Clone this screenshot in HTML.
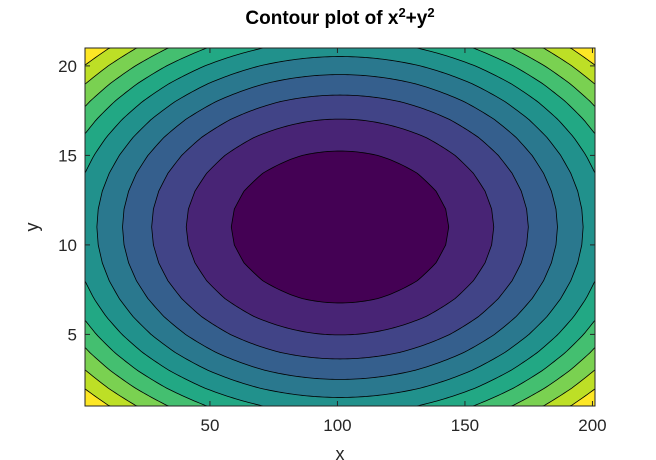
<!DOCTYPE html>
<html><head><meta charset="utf-8">
<style>
html,body{margin:0;padding:0;background:#fff;}
svg{display:block;font-family:"Liberation Sans",sans-serif;}
</style></head>
<body>
<svg id="chart" width="656" height="460" viewBox="0 0 656 460" xmlns="http://www.w3.org/2000/svg">
<defs><clipPath id="plotclip"><rect x="85" y="48" width="510" height="358"/></clipPath></defs>
<text x="340" y="24" text-anchor="middle" font-size="19" font-weight="bold" fill="#000">Contour plot of x<tspan dy="-7" font-size="13">2</tspan><tspan dy="7">+y</tspan><tspan dy="-7" font-size="13">2</tspan></text>
<g id="plot" clip-path="url(#plotclip)"></g>
<g id="axes"></g>
<text x="340" y="460" text-anchor="middle" font-size="18" fill="#262626">x</text>
<text x="38" y="227" text-anchor="middle" font-size="18" fill="#262626" transform="rotate(-90 38 227)">y</text>
</svg>
<script>
// grid: x = -10:0.1:10 (indices 1..201), y = -10:1:10 (indices 1..21), z = x^2 + y^2
const xGrid = {start: -10, step: 0.1, count: 201};
const yGrid = {start: -10, step: 1, count: 21};
const levels = [18.18, 36.36, 54.55, 72.73, 90.91, 109.09, 127.27, 145.45, 163.64, 181.82];
const bandColors = ["#440154","#482475","#414487","#355f8d","#2a788e","#21918c","#22a884","#44bf70","#7ad151","#bddf26","#fde725"];
const xTicks = [50, 100, 150, 200];
const yTicks = [5, 10, 15, 20];

const NS = "http://www.w3.org/2000/svg";
const L = 85, R = 595, T = 48, B = 406;
function sx(i){ return L + (i - 1) * (R - L) / (xGrid.count - 1); }
function sy(j){ return B - (j - 1) * (B - T) / (yGrid.count - 1); }
function z(i, j){
  const x = xGrid.start + (i - 1) * xGrid.step;
  const y = yGrid.start + (j - 1) * yGrid.step;
  return x * x + y * y;
}
const plot = document.getElementById('plot');
const axes = document.getElementById('axes');

const bg = document.createElementNS(NS, 'rect');


bg.setAttribute('x', L); bg.setAttribute('y', T);
bg.setAttribute('width', R - L); bg.setAttribute('height', B - T);
bg.setAttribute('fill', bandColors[levels.length]);
plot.appendChild(bg);

const ci = (xGrid.count + 1) / 2, cj = (yGrid.count + 1) / 2;

for (let k = levels.length - 1; k >= 0; k--) {
  const lev = levels[k];
  const top = [], bot = [];
  let closed = true;
  for (let i = 1; i <= xGrid.count; i++) {
    let lo = null, hi = null;
    for (let j = 1; j <= yGrid.count; j++) {
      const v = z(i, j);
      if (v <= lev) {
        if (lo === null) {
          if (j === 1) { lo = 1; closed = false; }
          else { const p = z(i, j - 1); lo = j - 1 + (p - lev) / (p - v); }
        }
        if (j === yGrid.count) { hi = j; closed = false; }
        else {
          const n = z(i, j + 1);
          if (n > lev) hi = j + (lev - v) / (n - v);
        }
      }
    }
    if (lo !== null && hi !== null) {
      if (i === 1 || i === xGrid.count) closed = false;
      top.push([i, hi]);
      bot.push([i, lo]);
    }
  }
  if (!top.length) continue;
  let pts;
  if (closed) {
    // add row crossings (linear interpolation along x) and sort by angle
    pts = top.concat(bot);
    for (let j = 1; j <= yGrid.count; j++) {
      for (let i = 1; i < xGrid.count; i++) {
        const a = z(i, j), b = z(i + 1, j);
        if ((a - lev) * (b - lev) < 0) pts.push([i + (lev - a) / (b - a), j]);
      }
    }
    pts.sort((p, q) => Math.atan2(p[1] - cj, (p[0] - ci) / 10) - Math.atan2(q[1] - cj, (q[0] - ci) / 10));
  } else {
    pts = top.concat(bot.reverse());
  }
  const poly = document.createElementNS(NS, 'polygon');
  
  
  poly.setAttribute('points', pts.map(p => sx(p[0]).toFixed(2) + ',' + sy(p[1]).toFixed(2)).join(' '));
  poly.setAttribute('fill', bandColors[k]);
  poly.setAttribute('stroke', '#000');
  poly.setAttribute('stroke-width', '0.8');
  poly.setAttribute('stroke-linejoin', 'round');
  plot.appendChild(poly);
}

const frame = document.createElementNS(NS, 'rect');


frame.setAttribute('x', L); frame.setAttribute('y', T);
frame.setAttribute('width', R - L); frame.setAttribute('height', B - T);
frame.setAttribute('fill', 'none'); frame.setAttribute('stroke', '#262626'); frame.setAttribute('stroke-width', '1');
axes.appendChild(frame);

function line(x1, y1, x2, y2, name){
  const l = document.createElementNS(NS, 'line');
  
  
  l.setAttribute('x1', x1); l.setAttribute('y1', y1); l.setAttribute('x2', x2); l.setAttribute('y2', y2);
  l.setAttribute('stroke', '#262626'); l.setAttribute('stroke-width', '1');
  axes.appendChild(l);
}
function label(x, y, txt, anchor, name){
  const t = document.createElementNS(NS, 'text');
  
  
  t.setAttribute('x', x); t.setAttribute('y', y);
  t.setAttribute('text-anchor', anchor); t.setAttribute('font-size', '17'); t.setAttribute('fill', '#262626');
  t.textContent = txt;
  axes.appendChild(t);
}
xTicks.forEach(v => {
  const px = sx(v);
  line(px, B, px, B - 5, 'x-tick');
  line(px, T, px, T + 5, 'x-tick-top');
  label(px, B + 25, String(v), 'middle', 'x-tick-label');
});
yTicks.forEach(v => {
  const py = sy(v);
  line(L, py, L + 5, py, 'y-tick');
  line(R, py, R - 5, py, 'y-tick-right');
  label(L - 8, py + 6, String(v), 'end', 'y-tick-label');
});
</script>
</body></html>
